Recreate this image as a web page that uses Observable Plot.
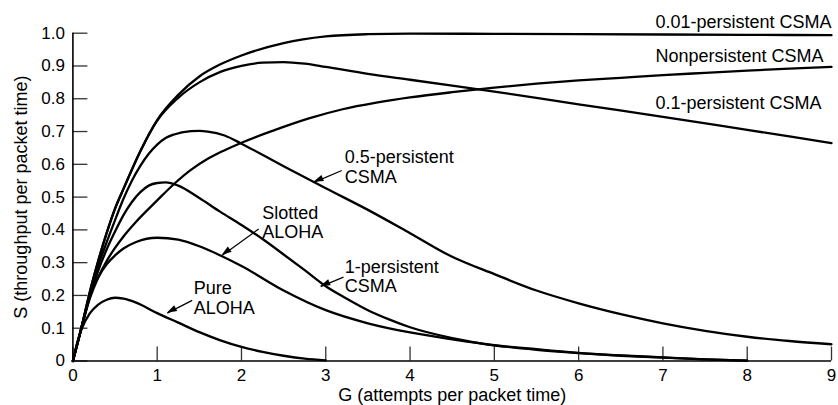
<!DOCTYPE html>
<html><head><meta charset="utf-8">
<script src="https://cdn.jsdelivr.net/npm/d3@7"></script>
<script src="https://cdn.jsdelivr.net/npm/@observablehq/plot@0.6"></script>
<style>body{margin:0;background:#fff;}</style>
</head><body><div id="chart"></div>
<script>
// ---- data ----
const xTicks = [0,1,2,3,4,5,6,7,8,9];
const yTicks = [0,0.1,0.2,0.3,0.4,0.5,0.6,0.7,0.8,0.9,1.0];

const pureG = [0,0.05,0.1,0.2,0.3,0.4,0.5,0.6,0.75,1.0,1.25,1.5,1.75,2.0,2.25,2.5,2.75,3.0];
const pureS = [0,0.055,0.095,0.145,0.172,0.187,0.193,0.19,0.178,0.146,0.117,0.088,0.063,0.043,0.028,0.016,0.007,0.002];

const slottedG = [0,0.1,0.2,0.3,0.4,0.5,0.6,0.75,1.0,1.25,1.5,1.75,2.0,2.5,3.0,3.5,4.0,4.5,5.0,5.5,6.0,6.5,7.0,7.5,8.0];
const slottedS = [0,0.1,0.2,0.255,0.295,0.322,0.343,0.363,0.376,0.37,0.35,0.322,0.29,0.215,0.155,0.115,0.087,0.066,0.048,0.036,0.025,0.017,0.011,0.005,0.001];

const p1G = [0,0.1,0.2,0.3,0.4,0.5,0.6,0.7,0.8,0.9,1.0,1.1,1.25,1.5,1.75,2.0,2.25,2.5,2.75,3.0,3.25,3.5,3.75,4.0,4.5,5.0,5.5,6.0,6.5,7.0,7.5,8.0];
const p1S = [0,0.1,0.195,0.275,0.34,0.395,0.445,0.485,0.515,0.535,0.543,0.545,0.535,0.497,0.455,0.415,0.372,0.325,0.277,0.228,0.19,0.155,0.127,0.103,0.07,0.048,0.034,0.024,0.016,0.01,0.005,0.001];

const p05G = [0,0.1,0.2,0.3,0.4,0.5,0.6,0.7,0.8,0.9,1.0,1.1,1.2,1.4,1.5,1.6,1.8,2.0,2.5,3.0,3.5,4.0,4.5,5.0,5.5,6.0,6.5,7.0,7.5,8.0,8.5,9.0];
const p05S = [0,0.1,0.2,0.29,0.362,0.43,0.495,0.55,0.595,0.632,0.66,0.68,0.691,0.701,0.702,0.7,0.688,0.663,0.594,0.527,0.461,0.39,0.318,0.265,0.215,0.176,0.143,0.115,0.092,0.074,0.061,0.051];

const p01G = [0,0.1,0.2,0.3,0.4,0.5,0.6,0.75,1.0,1.2,1.4,1.6,1.8,2.0,2.4,2.8,3.2,3.6,4.0,4.5,5.0,5.5,6.0,6.5,7.0,7.5,8.0,8.5,9.0];
const p01S = [0,0.1,0.19,0.255,0.305,0.345,0.38,0.425,0.49,0.54,0.583,0.617,0.643,0.666,0.705,0.74,0.768,0.788,0.804,0.82,0.834,0.846,0.856,0.864,0.872,0.879,0.886,0.892,0.897];

const p001G = [0,0.1,0.2,0.3,0.4,0.5,0.6,0.8,1.0,1.25,1.5,1.75,2.0,2.5,3.0,3.5,4.0,5.0,6.0,7.0,8.0,9.0];
const p001S = [0,0.1,0.21,0.305,0.39,0.465,0.525,0.64,0.735,0.812,0.868,0.905,0.932,0.97,0.99,0.997,0.999,0.998,0.997,0.996,0.995,0.994];

const npG = [0,0.1,0.2,0.3,0.4,0.5,0.6,0.8,1.0,1.25,1.5,1.75,2.0,2.25,2.5,2.75,3.0,3.5,4.0,4.5,5.0,6.0,7.0,8.0,9.0];
const npS = [0,0.1,0.21,0.305,0.39,0.465,0.525,0.64,0.733,0.803,0.85,0.882,0.9,0.91,0.912,0.907,0.897,0.876,0.858,0.84,0.822,0.783,0.745,0.705,0.665];

// labels: text, G position, S position (left edge, vertical middle)
const labelText = ["0.01-persistent CSMA","Nonpersistent CSMA","0.1-persistent CSMA","0.5-persistent\nCSMA","Slotted\nALOHA","1-persistent\nCSMA","Pure\nALOHA"];
const labelG = [6.911,6.911,6.911,3.225,2.245,3.225,1.434];
const labelS = [1.036,0.930,0.789,0.592,0.4225,0.259,0.193];

// arrows: from (G1,S1) to (G2,S2)
const arrowG1 = [3.19,2.205,3.21,1.415];
const arrowS1 = [0.581,0.403,0.256,0.185];
const arrowG2 = [2.86,1.77,2.94,1.12];
const arrowS2 = [0.545,0.322,0.227,0.146];

const xTitle = "G (attempts per packet time)";
const yTitle = "S (throughput per packet time)";

// ---- build tables ----
const series = [
  ["Pure ALOHA", pureG, pureS],
  ["Slotted ALOHA", slottedG, slottedS],
  ["1-persistent CSMA", p1G, p1S],
  ["0.5-persistent CSMA", p05G, p05S],
  ["0.1-persistent CSMA", p01G, p01S],
  ["0.01-persistent CSMA", p001G, p001S],
  ["Nonpersistent CSMA", npG, npS]
];
const rows = series.flatMap(([name, G, S]) => G.map((g, i) => ({series: name, G: g, S: S[i]})));
const labels = labelText.map((t, i) => ({t, G: labelG[i], S: labelS[i]}));
const arrows = arrowG1.map((g, i) => ({x1: g, y1: arrowS1[i], x2: arrowG2[i], y2: arrowS2[i]}));

const font = "'Liberation Sans', Arial, Helvetica, sans-serif";
const W = 838, H = 405, mL = 72.4, mR = 7, mT = 32.7, mB = 44.5;
const frameW = W - mL - mR, frameH = H - mT - mB;

// filled arrowheads drawn with the plot's own scales
function arrowHeads(index, scales) {
  const g = d3.create("svg:g").attr("fill", "black");
  for (const a of arrows) {
    const x1 = scales.x(a.x1), y1 = scales.y(a.y1), x2 = scales.x(a.x2), y2 = scales.y(a.y2);
    const ang = Math.atan2(y2 - y1, x2 - x1);
    const L = 10, Hw = 3.3;
    const bx = x2 - L * Math.cos(ang), by = y2 - L * Math.sin(ang);
    const px = -Math.sin(ang) * Hw, py = Math.cos(ang) * Hw;
    g.append("path").attr("d", `M${x2},${y2}L${bx + px},${by + py}L${bx - px},${by - py}Z`);
  }
  return g.node();
}

const chart = Plot.plot({
  width: W,
  height: H,
  marginLeft: mL,
  marginRight: mR,
  marginTop: mT,
  marginBottom: mB,
  style: {fontFamily: font, fontSize: "17px", background: "white", color: "black", overflow: "visible"},
  x: {domain: [0, 9]},
  y: {domain: [0, 1]},
  marks: [
    Plot.axisX({ticks: xTicks, tickSize: 0, tickPadding: 8, label: null, tickFormat: d => String(d), fontSize: 17}),
    Plot.axisY({ticks: yTicks, tickSize: 0, tickPadding: 8, label: null, tickFormat: d => d === 0 ? "0" : d.toFixed(1), fontSize: 17}),
    Plot.ruleX(xTicks, {x: d => d, insetTop: frameH - 14, stroke: "#333", strokeWidth: 1.3}),
    Plot.ruleY(yTicks, {y: d => d, insetRight: frameW - 15, stroke: "#333", strokeWidth: 1.3}),
    Plot.ruleX([0], {stroke: "black", strokeWidth: 1.6}),
    Plot.ruleY([0], {stroke: "black", strokeWidth: 1.6}),
    Plot.line(rows, {x: "G", y: "S", z: "series", curve: "monotone-x", stroke: "black", strokeWidth: 2.3}),
    Plot.link(arrows, {x1: "x1", y1: "y1", x2: "x2", y2: "y2", stroke: "black", strokeWidth: 1.2}),
    arrowHeads,
    Plot.text(labels, {x: "G", y: "S", text: "t", textAnchor: "start", lineAnchor: "middle", lineHeight: 1.07, fontSize: 18, fill: "black"}),
    Plot.text([xTitle], {frameAnchor: "bottom", dy: 34, lineAnchor: "middle", textAnchor: "middle", fontSize: 18, fill: "black"}),
    Plot.text([yTitle], {frameAnchor: "left", dx: -52, rotate: -90, lineAnchor: "middle", textAnchor: "middle", fontSize: 18, fill: "black"})
  ]
});
document.getElementById("chart").appendChild(chart);
</script></body></html>
